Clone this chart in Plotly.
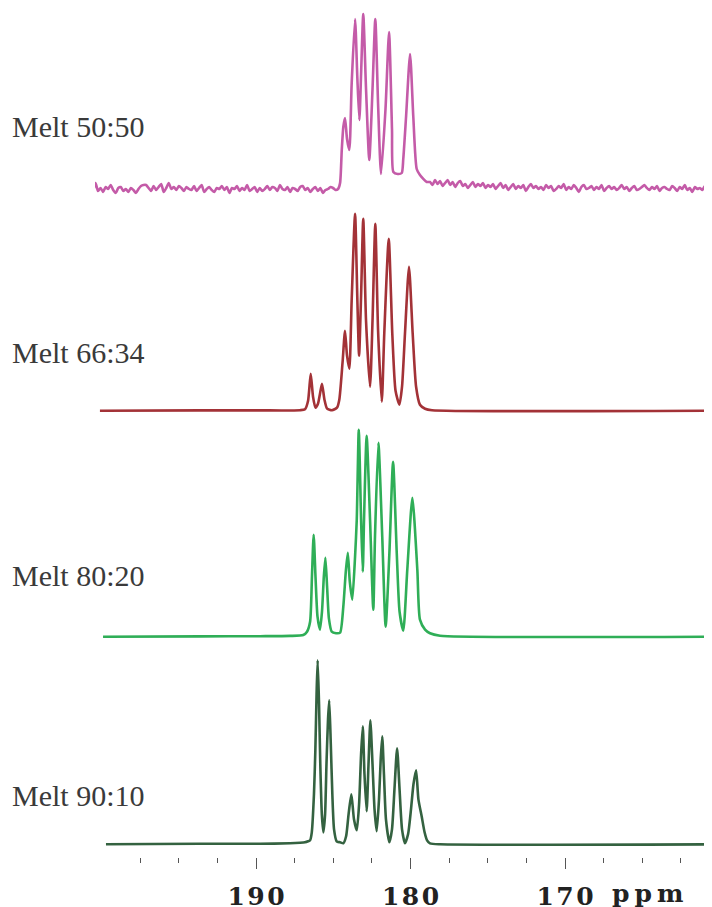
import numpy as np
import plotly.graph_objects as go

# ---------------- data (ppm, intensity above own baseline) ----------------
labels = ["Melt 50:50", "Melt 66:34", "Melt 80:20", "Melt 90:10"]

# Melt 90:10
ppm_9010 = [199.71, 193.62, 189.74, 187.80, 187.15, 186.83, 186.63, 186.50, 186.39, 186.25,
            186.16, 186.08, 186.01, 185.92, 185.84, 185.74, 185.64, 185.53, 185.44, 185.34,
            185.26, 185.16, 185.06, 184.95, 184.78, 184.56, 184.35, 184.17, 184.01, 183.83,
            183.66, 183.48, 183.33, 183.20, 183.09, 182.98, 182.84, 182.72, 182.60, 182.46,
            182.33, 182.19, 182.04, 181.93, 181.83, 181.72, 181.59, 181.37, 181.20, 181.04,
            180.87, 180.71, 180.55, 180.36, 180.16, 179.97, 179.81, 179.64, 179.49, 179.28,
            179.09, 178.93, 178.74, 178.09, 160.49]
int_9010 = [0, 0.5, 0.5, 1, 1.5, 2, 3, 4, 12, 50,
            94, 150, 184, 140, 80, 30, 12, 30, 80, 125,
            144, 100, 50, 15, 3, 2, 1, 8, 30, 50,
            25, 14, 40, 90, 118, 70, 33, 80, 124, 80,
            35, 13, 45, 85, 108, 70, 25, 2, 15, 55,
            96, 55, 15, 1, 10, 35, 60, 74, 45, 28,
            12, 4, 1, 0, 0]

# Melt 80:20
ppm_8020 = [199.90, 193.62, 189.74, 187.80, 186.94, 186.70, 186.50, 186.38, 186.27, 186.15,
            186.02, 185.86, 185.73, 185.61, 185.51, 185.40, 185.28, 185.10, 184.82, 184.56,
            184.35, 184.19, 184.06, 183.93, 183.77, 183.59, 183.48, 183.35, 183.20, 183.09,
            183.01, 182.84, 182.62, 182.41, 182.30, 182.08, 181.83, 181.61, 181.37, 181.13,
            180.89, 180.71, 180.47, 180.21, 179.88, 179.56, 179.39, 179.06, 178.74, 178.09,
            160.68]
int_8020 = [0, 0.3, 0.5, 0.8, 1.7, 5, 15, 60, 102, 60,
            20, 7, 25, 60, 79, 50, 18, 5, 3.5, 4,
            30, 65, 84, 55, 37, 80, 117, 207, 117, 65,
            117, 201, 117, 27, 100, 194, 100, 10, 83, 175,
            83, 25, 6, 67, 139, 67, 17, 7, 3.4, 1,
            0]

# Melt 66:34
ppm_6634 = [200.10, 193.62, 189.74, 187.15, 186.83, 186.63, 186.46, 186.31, 186.15, 185.99,
            185.86, 185.73, 185.57, 185.40, 185.08, 184.76, 184.61, 184.40, 184.24, 184.11,
            183.96, 183.81, 183.59, 183.44, 183.33, 183.20, 183.06, 182.88, 182.62, 182.46,
            182.28, 182.10, 181.86, 181.70, 181.41, 181.18, 180.97, 180.72, 180.55, 180.36,
            180.10, 179.86, 179.64, 179.39, 179.06, 178.61, 160.75]
int_6634 = [0, 0.3, 0.3, 0.5, 1.5, 10, 37, 14, 3, 7,
            17, 27, 11, 2, 0.5, 3, 11, 48, 80, 55,
            42, 110, 197, 110, 55, 115, 192, 90, 24, 90,
            187, 80, 9, 77, 172, 77, 20, 6, 24, 77,
            144, 77, 24, 6, 2, 0.5, 0]

# Melt 50:50 (noisy baseline segments + peak region)
ppm_5050_left_span = [200.55, 184.69]
noise_5050_left = [-3, 6, -2, 1, -3, 2, 0, 4, -1, -4, 1, 2, -2, 0, -3, 1, -1, -4, 0, 3,
                   4, 4, 1, -2, 3, -1, 2, 5, -3, 1, 6, 0, 2, -1, 3, 1, -2, 2, 0, -1,
                   3, -2, 1, 4, -3, 0, 2, -1, -3, 1, 0, 3, -1, 2, -4, 1, 0, 3, -2, 1,
                   -1, 4, -2, 0, 2, -3, 1, -2, 0, 3, -1, 2, 1, -2, 4, 0, -1, 2, -3, 1,
                   0, -2, 2, 3, -1, 1, -3, 0, 2, -2, 1, -4, -1, 0, 2, 1, -1, 0]
ppm_5050_peaks = [184.56, 184.45, 184.35, 184.24, 184.11, 183.96, 183.81, 183.59, 183.44, 183.31,
                  183.20, 183.06, 182.88, 182.67, 182.46, 182.28, 182.10, 181.91, 181.62, 181.39,
                  181.20, 181.11, 180.83, 180.57, 180.47, 180.29, 180.03, 179.82, 179.60, 179.39,
                  178.95]
int_5050_peaks = [6, 39, 62, 71, 50, 39, 105, 170, 110, 69,
                  115, 175, 100, 29, 100, 170, 85, 15, 80, 157,
                  60, 17, 15, 16, 30, 72, 135, 72, 20, 14,
                  7]
ppm_5050_right_span = [178.74, 160.62]
noise_5050_right = [7, 4, 9, 5, 8, 3, 6, 9, 4, 7, 2, 6, 8, 3, 5, 1, 4, 7, 2, 5,
                    3, 6, 1, 4, 2, 5, 0, 3, 6, 1, 4, -1, 2, 5, 0, 3, 1, 4, -2, 2,
                    5, 1, 3, 0, 2, -1, 4, 1, 3, -2, 0, 3, 1, 5, -1, 2, 0, 4, 1, -3,
                    2, 4, 0, 1, 3, -1, 2, 0, 4, -2, 1, 3, 0, 2, -1, 1, 4, 0, 2, -2,
                    1, 3, -1, 0, 2, 4, 1, -1, 2, 0, 3, -2, 1, 2, 0, -1, 3, 1, -2, 2,
                    0, 4, -1, 1, -3, 2, 0, 1, -1, 3, -2, 0]

major_ticks = [190, 180, 170]
major_labels = ["190", "180", "170"]
minor_ticks = [197.5, 195, 192.5, 187.5, 185, 182.5, 177.5, 175, 172.5, 167.5, 165, 162.5]
unit_label = "ppm"

colors = ["#c45ba8", "#a33237", "#2fae57", "#346240"]

# ---------------- assemble ----------------
x5050 = (list(np.linspace(ppm_5050_left_span[0], ppm_5050_left_span[1], len(noise_5050_left)))
         + ppm_5050_peaks
         + list(np.linspace(ppm_5050_right_span[0], ppm_5050_right_span[1], len(noise_5050_right))))
y5050 = noise_5050_left + int_5050_peaks + noise_5050_right

spectra = [(x5050, y5050), (ppm_6634, int_6634), (ppm_8020, int_8020), (ppm_9010, int_9010)]
offsets = [668, 446.3, 220.3, 12.7]          # vertical stacking (layout)
label_y = [730.5, 505, 282, 62]

fig = go.Figure()
for (xs, ys), off, col in zip(spectra, offsets, colors):
    fig.add_trace(go.Scatter(
        x=xs, y=[v + off for v in ys], mode="lines",
        line=dict(color=col, width=2.6, shape="spline", smoothing=0.6),
        hoverinfo="skip", showlegend=False))

for lab, ly in zip(labels, label_y):
    fig.add_annotation(text=lab, xref="paper", yref="y", x=(10 - 95) / 617, y=ly,
                       xanchor="left", yanchor="middle", showarrow=False,
                       font=dict(family="Liberation Serif", size=30, color="#3a3a3a"))

fig.add_annotation(text="\u2009".join(unit_label), xref="x", yref="paper", x=167.1, y=-0.0425,
                   xanchor="left", yanchor="middle", showarrow=False,
                   font=dict(family="DejaVu Serif", size=25, color="#222222", weight="bold"))

fig.update_layout(
    width=704, height=899,
    margin=dict(l=87, r=0, t=0, b=50),
    paper_bgcolor="white", plot_bgcolor="white",
    xaxis=dict(range=[200.42, 160.49], showgrid=False, zeroline=False, showline=False,
               automargin=False,
               tickmode="array", tickvals=major_ticks,
               ticktext=["\u200a".join(t) for t in major_labels],
               ticks="outside", ticklen=11, tickwidth=1.2, tickcolor="#555555",
               ticklabelstandoff=6,
               tickfont=dict(family="DejaVu Serif", size=25, color="#222222", weight="bold"),
               minor=dict(tickvals=minor_ticks, ticks="outside", ticklen=5,
                          tickwidth=1.2, tickcolor="#555555")),
    yaxis=dict(range=[0, 849], visible=False, automargin=False),
)

fig.write_html("out.html")
